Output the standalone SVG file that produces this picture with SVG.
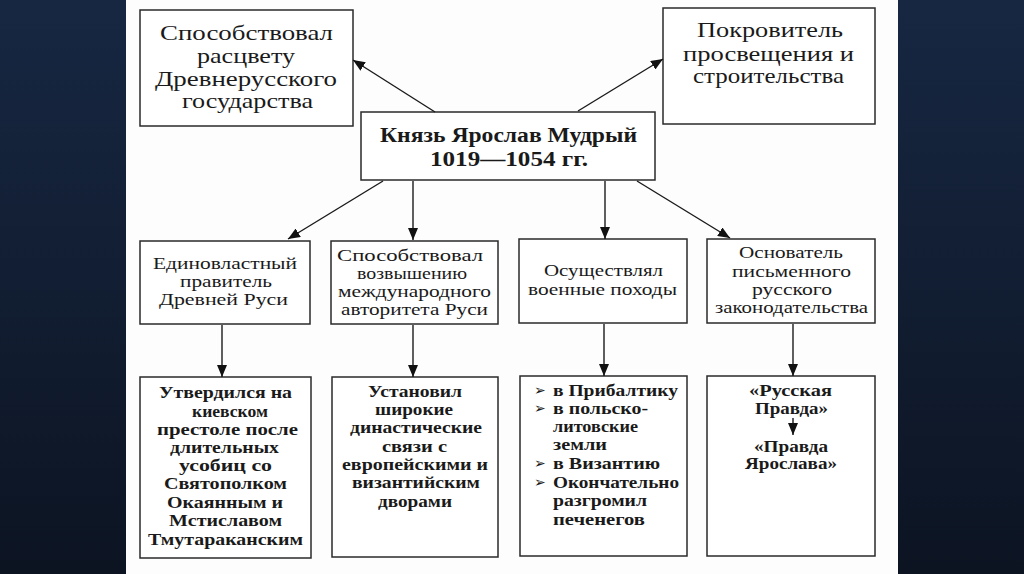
<svg xmlns="http://www.w3.org/2000/svg" width="1024" height="574" viewBox="0 0 1024 574">
<defs>
<linearGradient id="bg" x1="0" y1="0" x2="0" y2="1">
<stop offset="0" stop-color="#172742"/>
<stop offset="1" stop-color="#0c1422"/>
</linearGradient>
<marker id="ah" markerUnits="userSpaceOnUse" markerWidth="12" markerHeight="10" refX="12" refY="5" orient="auto">
<path d="M0,0 L12,5 L0,10 z" fill="#111"/>
</marker>
<style>
.box{fill:#fff;stroke:#2a2a2a;stroke-width:1.5}
text{font-family:'Liberation Serif','DejaVu Serif',serif;fill:#1a1a1a}
.l{font-size:21px}
.m{font-size:17px}
.s{font-size:16.5px;font-weight:bold}
.b{font-size:20px;font-weight:bold}
text.bul{font-family:'DejaVu Sans',sans-serif;font-size:14px}
.c{stroke:#1a1a1a;stroke-width:1.4;fill:none;marker-end:url(#ah)}
</style>
</defs>
<rect x="0" y="0" width="1024" height="574" fill="url(#bg)"/>
<rect x="126" y="0" width="772" height="574" fill="#fdfdfd"/>

<g id="n-top-left">
<rect class="box" x="140" y="10" width="213" height="116"/>
<text class="l" x="160" y="40" textLength="173" lengthAdjust="spacingAndGlyphs">Способствовал</text>
<text class="l" x="197" y="63" textLength="98" lengthAdjust="spacingAndGlyphs">расцвету</text>
<text class="l" x="155" y="86" textLength="182" lengthAdjust="spacingAndGlyphs">Древнерусского</text>
<text class="l" x="182" y="108" textLength="131" lengthAdjust="spacingAndGlyphs">государства</text>
</g>

<g id="n-top-right">
<rect class="box" x="663" y="8" width="212" height="116"/>
<text class="l" x="697" y="37" textLength="146" lengthAdjust="spacingAndGlyphs">Покровитель</text>
<text class="l" x="683" y="61" textLength="171" lengthAdjust="spacingAndGlyphs">просвещения и</text>
<text class="l" x="693" y="83" textLength="151" lengthAdjust="spacingAndGlyphs">строительства</text>
</g>

<g id="n-center">
<rect class="box" x="361" y="112" width="294" height="68"/>
<text class="b" x="380" y="142" textLength="257" lengthAdjust="spacingAndGlyphs">Князь Ярослав Мудрый</text>
<text class="b" x="430" y="166" textLength="158" lengthAdjust="spacingAndGlyphs">1019—1054 гг.</text>
</g>

<g id="n-r2-1">
<rect class="box" x="140" y="241" width="170" height="83"/>
<text class="m" x="153" y="269" textLength="144" lengthAdjust="spacingAndGlyphs">Единовластный</text>
<text class="m" x="180" y="287" textLength="92" lengthAdjust="spacingAndGlyphs">правитель</text>
<text class="m" x="159" y="305" textLength="129" lengthAdjust="spacingAndGlyphs">Древней Руси</text>
</g>

<g id="n-r2-2">
<rect class="box" x="331" y="241" width="167" height="83"/>
<text class="m" x="337" y="261" textLength="146" lengthAdjust="spacingAndGlyphs">Способствовал</text>
<text class="m" x="357" y="279" textLength="110" lengthAdjust="spacingAndGlyphs">возвышению</text>
<text class="m" x="338" y="297" textLength="153" lengthAdjust="spacingAndGlyphs">международного</text>
<text class="m" x="341" y="315" textLength="147" lengthAdjust="spacingAndGlyphs">авторитета Руси</text>
</g>

<g id="n-r2-3">
<rect class="box" x="519" y="239" width="168" height="84"/>
<text class="m" x="544" y="276" textLength="119" lengthAdjust="spacingAndGlyphs">Осуществлял</text>
<text class="m" x="528" y="295" textLength="149" lengthAdjust="spacingAndGlyphs">военные походы</text>
</g>

<g id="n-r2-4">
<rect class="box" x="707" y="239" width="168" height="84"/>
<text class="m" x="739" y="258" textLength="104" lengthAdjust="spacingAndGlyphs">Основатель</text>
<text class="m" x="732" y="277" textLength="119" lengthAdjust="spacingAndGlyphs">письменного</text>
<text class="m" x="752" y="295" textLength="80" lengthAdjust="spacingAndGlyphs">русского</text>
<text class="m" x="715" y="313" textLength="153" lengthAdjust="spacingAndGlyphs">законодательства</text>
</g>

<g id="n-r3-1">
<rect class="box" x="140" y="377" width="171" height="181"/>
<text class="s" x="159" y="398" textLength="133" lengthAdjust="spacingAndGlyphs">Утвердился на</text>
<text class="s" x="192" y="417" textLength="76" lengthAdjust="spacingAndGlyphs">киевском</text>
<text class="s" x="157" y="435" textLength="141" lengthAdjust="spacingAndGlyphs">престоле после</text>
<text class="s" x="170" y="453" textLength="109" lengthAdjust="spacingAndGlyphs">длительных</text>
<text class="s" x="179" y="471" textLength="93" lengthAdjust="spacingAndGlyphs">усобиц со</text>
<text class="s" x="164" y="489" textLength="123" lengthAdjust="spacingAndGlyphs">Святополком</text>
<text class="s" x="167" y="508" textLength="116" lengthAdjust="spacingAndGlyphs">Окаянным и</text>
<text class="s" x="169" y="526" textLength="113" lengthAdjust="spacingAndGlyphs">Мстиславом</text>
<text class="s" x="148" y="545" textLength="155" lengthAdjust="spacingAndGlyphs">Тмутараканским</text>
</g>

<g id="n-r3-2">
<rect class="box" x="332" y="377" width="166" height="180"/>
<text class="s" x="368" y="397" textLength="94" lengthAdjust="spacingAndGlyphs">Установил</text>
<text class="s" x="375" y="415" textLength="78" lengthAdjust="spacingAndGlyphs">широкие</text>
<text class="s" x="350" y="433" textLength="132" lengthAdjust="spacingAndGlyphs">династические</text>
<text class="s" x="382" y="452" textLength="65" lengthAdjust="spacingAndGlyphs">связи с</text>
<text class="s" x="342" y="470" textLength="146" lengthAdjust="spacingAndGlyphs">европейскими и</text>
<text class="s" x="352" y="488" textLength="128" lengthAdjust="spacingAndGlyphs">византийским</text>
<text class="s" x="378" y="507" textLength="74" lengthAdjust="spacingAndGlyphs">дворами</text>
</g>

<g id="n-r3-3">
<rect class="box" x="520" y="376" width="167" height="180"/>
<text class="bul" x="534" y="395">➢</text>
<text class="bul" x="534" y="413">➢</text>
<text class="bul" x="534" y="468">➢</text>
<text class="bul" x="534" y="487">➢</text>
<text class="s" x="553" y="396" textLength="125" lengthAdjust="spacingAndGlyphs">в Прибалтику</text>
<text class="s" x="553" y="414" textLength="95" lengthAdjust="spacingAndGlyphs">в польско-</text>
<text class="s" x="553" y="432" textLength="85" lengthAdjust="spacingAndGlyphs">литовские</text>
<text class="s" x="553" y="450" textLength="54" lengthAdjust="spacingAndGlyphs">земли</text>
<text class="s" x="553" y="469" textLength="107" lengthAdjust="spacingAndGlyphs">в Византию</text>
<text class="s" x="553" y="488" textLength="126" lengthAdjust="spacingAndGlyphs">Окончательно</text>
<text class="s" x="553" y="506" textLength="94" lengthAdjust="spacingAndGlyphs">разгромил</text>
<text class="s" x="553" y="525" textLength="92" lengthAdjust="spacingAndGlyphs">печенегов</text>
</g>

<g id="n-r3-4">
<rect class="box" x="707" y="376" width="168" height="180"/>
<text class="s" x="749" y="396" textLength="83" lengthAdjust="spacingAndGlyphs">«Русская</text>
<text class="s" x="755" y="414" textLength="73" lengthAdjust="spacingAndGlyphs">Правда»</text>
<text class="s" x="754" y="452" textLength="74" lengthAdjust="spacingAndGlyphs">«Правда</text>
<text class="s" x="745" y="469" textLength="92" lengthAdjust="spacingAndGlyphs">Ярослава»</text>
</g>

<g id="connectors">
<line class="c" x1="435" y1="112" x2="353" y2="60"/>
<line class="c" x1="578" y1="111" x2="663" y2="59"/>
<line class="c" x1="383" y1="181" x2="288" y2="239"/>
<line class="c" x1="413" y1="181" x2="413" y2="240"/>
<line class="c" x1="605" y1="181" x2="605" y2="239"/>
<line class="c" x1="637" y1="181" x2="730" y2="238"/>
<line class="c" x1="222" y1="325" x2="222" y2="377"/>
<line class="c" x1="413" y1="325" x2="413" y2="377"/>
<line class="c" x1="604" y1="324" x2="604" y2="376"/>
<line class="c" x1="793" y1="324" x2="793" y2="376"/>
<line class="c" x1="793" y1="418" x2="793" y2="435"/>
</g>
</svg>
